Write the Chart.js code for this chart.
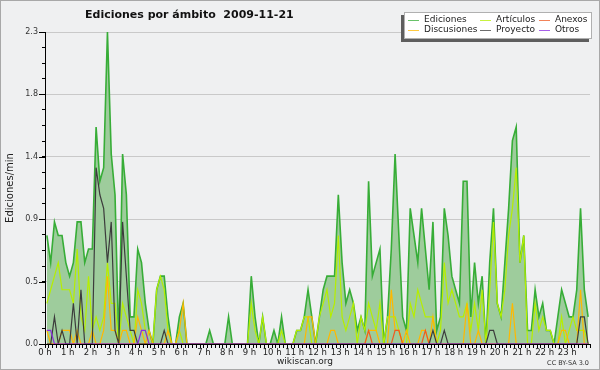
<!DOCTYPE html>
<html>
<head>
<meta charset="utf-8">
<script src="https://cdn.jsdelivr.net/npm/chart.js@4/dist/chart.umd.min.js"></script>
<style>
  html, body { margin: 0; padding: 0; background: #eff0f1; }
  canvas { display: block; }
</style>
</head>
<body>
<canvas id="c" width="600" height="370"></canvas>
<script>
// ---- data (10-minute buckets, 144 per day, edits per minute) ----
const titleText = 'Ediciones por ámbito  2009-11-21';
const yAxisTitle = 'Ediciones/min';
const xTickLabels = ['0 h','1 h','2 h','3 h','4 h','5 h','6 h','7 h','8 h','9 h','10 h','11 h',
                     '12 h','13 h','14 h','15 h','16 h','17 h','18 h','19 h','20 h','21 h','22 h','23 h'];
const yTickLabels = ['0.0','0.5','0.9','1.4','1.8','2.3'];
const yMax = 2.3;

const ediciones = [
 0.8,0.6,0.9,0.8,0.8,0.6,0.5,0.6,0.9,0.9,
 0.6,0.7,0.7,1.6,1.2,1.3,2.3,1.4,1.1,0,
 1.4,1.1,0.2,0.2,0.7,0.6,0.3,0.1,0,0.4,
 0.5,0.5,0.2,0,0,0.2,0.3,0,0,0,
 0,0,0,0.1,0,0,0,0,0.2,0,
 0,0,0,0,0.5,0.2,0,0.2,0,0,
 0.1,0,0.2,0,0,0,0.1,0.1,0.2,0.4,
 0.2,0,0.2,0.4,0.5,0.5,0.5,1.1,0.6,0.3,
 0.4,0.3,0.1,0.2,0.1,1.2,0.5,0.6,0.7,0,
 0.2,0.7,1.4,0.8,0.2,0.1,1.0,0.8,0.6,1.0,
 0.7,0.4,0.9,0.1,0.2,1.0,0.8,0.5,0.4,0.3,
 1.2,1.2,0.2,0.6,0.3,0.5,0,0.6,1.0,0.3,
 0.2,0.6,1.0,1.5,1.6,0.6,0.8,0.1,0.1,0.4,
 0.2,0.3,0.1,0.1,0,0.2,0.4,0.3,0.2,0.2,
 0.4,1.0,0.4,0.2];
const articulos = [
 0.3,0.4,0.5,0.6,0.4,0.4,0.4,0.3,0.7,0.2,
 0.1,0.5,0.1,0.2,0.1,0.2,0.6,0.3,0.3,0,
 0.3,0.2,0.1,0,0.4,0.3,0.1,0,0,0.4,
 0.5,0.4,0.1,0,0,0.1,0,0,0,0,
 0,0,0,0,0,0,0,0,0,0,
 0,0,0,0,0.3,0.1,0,0.2,0,0,
 0,0,0.1,0,0,0,0.1,0.1,0.2,0.2,
 0,0,0.2,0.3,0.4,0.2,0.3,0.8,0.2,0.1,
 0.2,0.3,0,0.2,0.1,0.3,0.2,0.1,0.3,0,
 0.2,0.2,0.2,0.1,0,0,0.3,0.2,0.4,0.3,
 0.2,0.2,0.2,0,0.1,0.6,0.3,0.4,0.3,0.2,
 0.2,0.3,0.1,0.3,0.1,0.4,0,0.4,0.9,0.3,
 0.2,0.4,0.8,1.0,1.3,0.6,0.8,0,0,0.3,
 0.1,0.2,0.1,0.1,0,0,0.2,0,0.1,0.2,
 0.1,0.1,0.1,0];
const anexos = [
 0,0,0,0,0,0,0,0,0,0,
 0,0,0,0,0,0,0,0,0,0,
 0,0,0,0,0,0,0,0,0,0,
 0,0,0,0,0,0,0,0,0,0,
 0,0,0,0,0,0,0,0,0,0,
 0,0,0,0,0,0,0,0,0,0,
 0,0,0,0,0,0,0,0,0,0,
 0,0,0,0,0,0,0,0,0,0,
 0,0,0,0,0,0.1,0,0,0,0,
 0,0,0.1,0.1,0,0,0,0,0,0,
 0.1,0,0,0,0,0,0,0,0,0,
 0,0,0,0,0,0,0,0,0,0,
 0,0,0,0,0,0,0,0,0,0,
 0,0,0,0,0,0,0,0,0,0,
 0,0,0,0];
const discusiones = [
 0.1,0,0,0,0.1,0.1,0.1,0,0.1,0,
 0,0,0.1,0,0,0.1,0.5,0.1,0.1,0,
 0.1,0.1,0,0,0.2,0.1,0,0.1,0,0,
 0,0,0.1,0,0,0.1,0.3,0,0,0,
 0,0,0,0,0,0,0,0,0,0,
 0,0,0,0,0,0,0,0,0,0,
 0,0,0,0,0,0,0,0,0,0.2,
 0.2,0,0,0,0,0.1,0.1,0,0,0,
 0,0,0,0,0,0.1,0.1,0.1,0,0,
 0,0.4,0.1,0.1,0,0.1,0,0,0,0.1,
 0.1,0,0.2,0,0,0,0,0,0,0,
 0,0.3,0,0,0.1,0,0,0,0,0,
 0,0,0,0.3,0,0,0,0,0,0,
 0,0,0,0,0,0,0.1,0.1,0,0,
 0,0.4,0,0];
const proyecto = [
 0,0,0.2,0,0.1,0,0,0.3,0,0.4,
 0,0,0,1.3,1.1,1.0,0.6,0.9,0.1,0,
 0.9,0.5,0.1,0.1,0,0,0,0,0,0,
 0,0.1,0,0,0,0,0,0,0,0,
 0,0,0,0,0,0,0,0,0,0,
 0,0,0,0,0,0,0,0,0,0,
 0,0,0,0,0,0,0,0,0,0,
 0,0,0,0,0,0,0,0,0,0,
 0,0,0,0,0,0,0,0,0,0,
 0,0,0,0,0,0,0,0,0,0,
 0,0,0.1,0,0,0.1,0,0,0,0,
 0,0,0,0,0,0,0,0.1,0.1,0,
 0,0,0,0,0,0,0,0,0,0,
 0,0,0,0,0,0,0,0,0,0,
 0,0.2,0.2,0];
const otros = [
 0.1,0.1,0,0,0,0,0,0,0,0,
 0,0,0,0,0,0,0,0,0,0,
 0,0,0,0,0,0.1,0.1,0,0,0,
 0,0,0,0,0,0,0,0,0,0,
 0,0,0,0,0,0,0,0,0,0,
 0,0,0,0,0,0,0,0,0,0,
 0,0,0,0,0,0,0,0,0,0,
 0,0,0,0,0,0,0,0,0,0,
 0,0,0,0,0,0,0,0,0,0,
 0,0,0,0,0,0,0,0,0,0,
 0,0,0,0,0,0,0,0,0,0,
 0,0,0,0,0,0,0,0,0,0,
 0,0,0,0,0,0,0,0,0,0,
 0,0,0,0,0,0,0,0,0,0,
 0,0,0,0];

// ---- helpers ----
const slotsPerHour = 6;
const nSlots = xTickLabels.length * slotsPerHour;
const toPts = arr => arr.map((v, i) => ({ x: i + 0.5, y: v }));
const FONT = "'DejaVu Sans', 'Liberation Sans', sans-serif";

const series = [
  { label: 'Ediciones',   data: ediciones,   color: '#37ad37', width: 1.6, fill: '#9ecc9c', order: 10 },
  { label: 'Artículos',   data: articulos,   color: '#b6ee00', width: 1.2, order: 6 },
  { label: 'Anexos',      data: anexos,      color: '#ee5a22', width: 1.2, order: 3 },
  { label: 'Discusiones', data: discusiones, color: '#ffb800', width: 1.2, order: 5 },
  { label: 'Proyecto',    data: proyecto,    color: '#3c3c3c', width: 1.2, order: 2 },
  { label: 'Otros',       data: otros,       color: '#8a2be2', width: 1.2, order: 1 }
];

const datasets = series.map(s => ({
  label: s.label,
  data: toPts(s.data),
  borderColor: s.color,
  borderWidth: s.width,
  backgroundColor: s.fill || s.color,
  fill: s.fill ? 'origin' : false,
  pointRadius: 0,
  tension: 0,
  order: s.order
}));

const extras = {
  id: 'extras',
  beforeDraw(chart) {
    const c = chart.ctx;
    c.save();
    c.fillStyle = '#eff0f1';
    c.fillRect(0, 0, chart.width, chart.height);
    c.strokeStyle = '#a8a8a8';
    c.lineWidth = 1;
    c.strokeRect(0.5, 0.5, chart.width - 1, chart.height - 1);
    c.restore();
  },
  afterDraw(chart) {
    const c = chart.ctx;
    c.save();
    // longer marks for the labelled y ticks
    const ys = chart.scales.y, area = chart.chartArea;
    c.strokeStyle = '#000';
    c.lineWidth = 1;
    c.beginPath();
    yTickLabels.forEach((_, k) => {
      const py = Math.round(ys.getPixelForValue(yMax * k / (yTickLabels.length - 1))) + 0.5;
      c.moveTo(area.left - 6, py);
      c.lineTo(area.left, py);
    });
    c.stroke();
    // title
    c.fillStyle = '#111';
    c.font = "bold 11px " + FONT;
    c.textBaseline = 'alphabetic';
    c.textAlign = 'left';
    c.fillText(titleText, 85, 18);
    // footer
    c.font = "9px " + FONT;
    c.fillStyle = '#222';
    c.textAlign = 'center';
    c.fillText('wikiscan.org', 305, 364);
    c.font = "6.5px " + FONT;
    c.textAlign = 'right';
    c.fillStyle = '#333';
    c.fillText('CC BY-SA 3.0', 589, 365);
    // legend
    const bx = 404, by = 12, bw = 188, bh = 27;
    c.fillStyle = '#5e5e5e';
    c.fillRect(bx - 3, by + 3, bw, bh);
    c.fillStyle = '#ffffff';
    c.fillRect(bx, by, bw, bh);
    c.strokeStyle = '#b0b0b0';
    c.lineWidth = 1;
    c.strokeRect(bx + 0.5, by + 0.5, bw - 1, bh - 1);
    const colX = [408, 480, 539];
    const rowY = [19.5, 29.5];
    c.font = "9px " + FONT;
    c.textAlign = 'left';
    c.textBaseline = 'middle';
    series.forEach((s, k) => {
      const col = k % 3, row = Math.floor(k / 3);
      const x = colX[col], y = rowY[row];
      c.strokeStyle = s.color;
      c.lineWidth = 1;
      c.globalAlpha = 0.75;
      c.beginPath();
      c.moveTo(x, Math.round(y) + 0.5);
      c.lineTo(x + 11, Math.round(y) + 0.5);
      c.stroke();
      c.globalAlpha = 1;
      c.fillStyle = '#222';
      c.fillText(s.label, x + 16, y);
    });
    c.restore();
  }
};

new Chart(document.getElementById('c'), {
  type: 'line',
  data: { datasets },
  plugins: [extras],
  options: {
    responsive: false,
    devicePixelRatio: 1,
    animation: false,
    events: [],
    layout: { padding: { top: 32, right: 10, left: 0, bottom: 0 } },
    plugins: { legend: { display: false }, tooltip: { enabled: false }, title: { display: false } },
    scales: {
      x: {
        type: 'linear',
        min: 0,
        max: nSlots,
        afterBuildTicks: axis => {
          axis.ticks = Array.from({ length: nSlots + 1 }, (_, i) => ({ value: i }));
        },
        afterFit: s => { s.height = 26; },
        ticks: {
          autoSkip: false,
          maxRotation: 0,
          minRotation: 0,
          padding: 0,
          color: '#222',
          font: { family: FONT, size: 8.5 },
          callback: v => (v % slotsPerHour === 0 && v / slotsPerHour < xTickLabels.length) ? xTickLabels[v / slotsPerHour] : ''
        },
        grid: { drawOnChartArea: false, drawTicks: true, tickLength: 4, color: '#000', tickColor: '#000' },
        border: { display: true, color: '#000', width: 1 }
      },
      y: {
        type: 'linear',
        min: 0,
        max: yMax,
        afterBuildTicks: axis => {
          const n = (yTickLabels.length - 1) * 4;
          axis.ticks = Array.from({ length: n + 1 }, (_, i) => ({ value: yMax * i / n }));
        },
        afterFit: s => { s.width = 45; },
        ticks: {
          autoSkip: false,
          padding: 4,
          color: '#333',
          font: { family: FONT, size: 8 },
          callback: (v, i) => (i % 4 === 0) ? yTickLabels[i / 4] : ''
        },
        grid: {
          drawTicks: true,
          tickLength: 3,
          color: ctx => (ctx.index % 4 === 0 && ctx.index > 0) ? '#c9c9c9' : 'rgba(0,0,0,0)',
          tickColor: '#000',
          lineWidth: 1
        },
        border: { display: true, color: '#000', width: 1 },
        title: {
          display: true,
          text: yAxisTitle,
          color: '#222',
          font: { family: FONT, size: 10 },
          padding: { top: 4, bottom: 0 }
        }
      }
    }
  }
});
</script>
</body>
</html>
